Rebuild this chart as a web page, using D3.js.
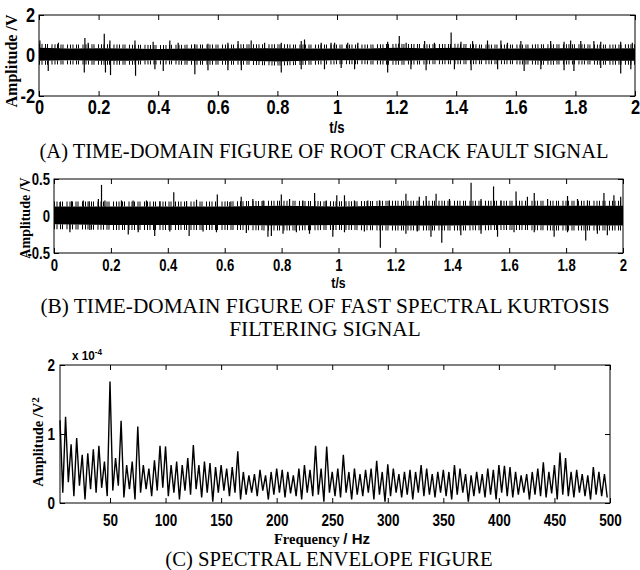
<!DOCTYPE html>
<html>
<head>
<meta charset="utf-8">
<script src="https://cdn.jsdelivr.net/npm/d3@7"></script>
<style>
  body { margin: 0; background: #fff; }
  svg { display: block; }
  .tick text { font-family: "Liberation Sans", Arial, sans-serif; font-weight: bold; fill: #000; }
</style>
</head>
<body>
<svg id="chart"></svg>
<script>
// ---- panel A: root crack fault signal (V), 0..2 s
const coreTimeA = [0, 0.1, 0.2, 0.3, 0.4, 0.5, 0.6, 0.7, 0.8, 0.9, 1.0, 1.1, 1.2, 1.3, 1.4, 1.5, 1.6, 1.7, 1.8, 1.9, 2.0];
const coreHiA = [0.38, 0.34, 0.36, 0.34, 0.32, 0.34, 0.34, 0.36, 0.36, 0.34, 0.34, 0.34, 0.38, 0.36, 0.38, 0.34, 0.34, 0.36, 0.36, 0.34, 0.36];
const coreLoA = [-0.26, -0.24, -0.26, -0.26, -0.24, -0.26, -0.26, -0.26, -0.30, -0.26, -0.24, -0.24, -0.26, -0.24, -0.24, -0.24, -0.24, -0.26, -0.24, -0.26, -0.26];
const spikeTimeA = [0.003, 0.065, 0.154, 0.165, 0.219, 0.238, 0.322, 0.383, 0.439, 0.467, 0.523, 0.567, 0.634, 0.668, 0.712, 0.757, 0.813, 0.880, 0.891, 0.947, 0.980,
  0.992, 1.036, 1.070, 1.170, 1.209, 1.232, 1.294, 1.327, 1.383, 1.416, 1.455, 1.505, 1.550, 1.572, 1.617, 1.717, 1.762, 1.784, 1.818, 1.862, 1.885, 1.952, 1.991,
  0.031, 0.152, 0.223, 0.240, 0.324, 0.389, 0.417, 0.523, 0.567, 0.634, 0.679, 0.813, 0.880, 0.958,
  1.014, 1.059, 1.170, 1.248, 1.299, 1.394, 1.450, 1.539, 1.628, 1.684, 1.762, 1.795, 1.885, 1.952, 1.986];
const spikeAmpA = [0.74, 0.63, 0.87, 0.63, 1.07, 0.74, 0.74, 0.68, 0.74, 0.63, 0.55, 0.58, 0.63, 0.71, 0.74, 0.63, 0.63, 0.71, 0.79, 0.63, 0.63,
  0.63, 0.63, 0.63, 0.68, 0.96, 0.63, 0.71, 0.63, 1.14, 0.68, 0.71, 0.74, 0.74, 0.63, 0.71, 0.71, 0.68, 0.74, 0.71, 0.71, 0.68, 0.68, 0.63,
  -0.76, -0.84, -0.84, -0.97, -1.00, -0.68, -0.76, -0.92, -0.73, -0.73, -0.73, -0.84, -0.68, -0.68,
  -0.62, -0.68, -0.84, -0.68, -0.73, -0.68, -0.73, -0.68, -0.76, -0.68, -0.73, -0.76, -0.62, -0.89, -0.68];

// ---- panel B: fast spectral kurtosis filtered signal (V), 0..2 s
const coreTimeB = [0, 0.2, 0.4, 0.6, 0.8, 1.0, 1.2, 1.4, 1.6, 1.8, 2.0];
const coreHiB = [0.13, 0.13, 0.13, 0.13, 0.14, 0.13, 0.14, 0.14, 0.14, 0.14, 0.14];
const coreLoB = [-0.11, -0.12, -0.12, -0.12, -0.13, -0.12, -0.13, -0.13, -0.12, -0.13, -0.13];
const spikeTimeB = [0.021, 0.062, 0.103, 0.124, 0.156, 0.167, 0.179, 0.237, 0.278, 0.325, 0.372, 0.421, 0.466, 0.501, 0.574, 0.618, 0.658, 0.699, 0.735, 0.799, 0.828, 0.875, 0.916, 0.957, 0.994,
  1.021, 1.056, 1.103, 1.144, 1.179, 1.237, 1.284, 1.308, 1.343, 1.390, 1.466, 1.501, 1.545, 1.571, 1.624, 1.664, 1.688, 1.735, 1.805, 1.840, 1.875, 1.933, 1.968, 1.992,
  0.056, 0.126, 0.261, 0.296, 0.354, 0.407, 0.475, 0.524, 0.571, 0.676, 0.752, 0.764, 0.805, 0.852, 0.898, 0.980,
  1.021, 1.091, 1.147, 1.237, 1.277, 1.325, 1.363, 1.430, 1.501, 1.559, 1.617, 1.688, 1.758, 1.805, 1.869, 1.910, 1.945];
const spikeAmpB = [0.19, 0.20, 0.21, 0.20, 0.23, 0.42, 0.21, 0.21, 0.21, 0.21, 0.20, 0.32, 0.20, 0.22, 0.29, 0.19, 0.26, 0.23, 0.21, 0.29, 0.23, 0.21, 0.31, 0.21, 0.28,
  0.28, 0.21, 0.21, 0.21, 0.21, 0.30, 0.26, 0.27, 0.30, 0.23, 0.45, 0.23, 0.40, 0.21, 0.33, 0.26, 0.31, 0.23, 0.27, 0.23, 0.21, 0.31, 0.28, 0.26,
  -0.22, -0.19, -0.25, -0.22, -0.27, -0.21, -0.27, -0.21, -0.22, -0.23, -0.28, -0.27, -0.24, -0.22, -0.24, -0.28,
  -0.22, -0.21, -0.43, -0.24, -0.21, -0.28, -0.36, -0.26, -0.24, -0.28, -0.22, -0.22, -0.28, -0.22, -0.33, -0.24, -0.26];

// ---- panel C: spectral envelope (x 1e-4 V^2), local max / min per 5 Hz bin from 5 Hz
const envHiC = [1.20, 1.25, 0.85, 0.94, 0.70, 0.72, 0.78, 0.83, 0.60, 1.76, 0.65, 1.19, 0.55, 0.60, 1.11, 0.55, 0.50, 0.62, 0.83, 0.82,
  0.55, 0.60, 0.55, 0.65, 0.84, 0.55, 0.60, 0.58, 0.52, 0.55, 0.50, 0.52, 0.75, 0.45, 0.40, 0.42, 0.48, 0.40, 0.45, 0.50,
  0.48, 0.45, 0.40, 0.50, 0.55, 0.48, 0.83, 0.50, 0.82, 0.45, 0.50, 0.70, 0.45, 0.50, 0.42, 0.48, 0.50, 0.61, 0.45, 0.56,
  0.50, 0.42, 0.45, 0.48, 0.45, 0.55, 0.50, 0.42, 0.45, 0.48, 0.45, 0.55, 0.50, 0.42, 0.40, 0.45, 0.42, 0.50, 0.48, 0.55,
  0.54, 0.52, 0.45, 0.40, 0.42, 0.45, 0.50, 0.59, 0.45, 0.55, 0.73, 0.65, 0.45, 0.48, 0.42, 0.40, 0.52, 0.45, 0.42];
const envLoC = [0.15, 0.30, 0.10, 0.25, 0.05, 0.20, 0.15, 0.22, 0.10, 0.18, 0.25, 0.08, 0.20, 0.05, 0.15, 0.20, 0.10, 0.18, 0.22, 0.10,
  0.15, 0.05, 0.18, 0.12, 0.20, 0.08, 0.15, 0.02, 0.15, 0.18, 0.10, 0.15, 0.05, 0.12, 0.15, 0.10, 0.18, 0.05, 0.12, 0.15,
  0.08, 0.14, 0.10, 0.05, 0.15, 0.10, 0.12, 0.02, 0.15, 0.10, 0.08, 0.15, 0.05, 0.12, 0.10, 0.15, 0.05, 0.12, 0.02, 0.10,
  0.15, 0.08, 0.12, 0.05, 0.15, 0.10, 0.12, 0.08, 0.15, 0.10, 0.05, 0.12, 0.15, 0.02, 0.10, 0.14, 0.08, 0.12, 0.05, 0.15,
  0.10, 0.08, 0.12, 0.15, 0.05, 0.12, 0.10, 0.08, 0.14, 0.05, 0.12, 0.10, 0.08, 0.15, 0.10, 0.05, 0.12, 0.10, 0.08];

const timeTicks = [0, 0.2, 0.4, 0.6, 0.8, 1, 1.2, 1.4, 1.6, 1.8, 2];
const freqTicks = [50, 100, 150, 200, 250, 300, 350, 400, 450, 500];

const SANS = '"Liberation Sans", Arial, sans-serif';
const SERIF = '"Liberation Serif", "Times New Roman", serif';
const NARROW = 0.82; // tick labels in the figure are condensed

function main() {
  const svg = d3.select("#chart").attr("width", 640).attr("height", 570);
  svg.append("rect").attr("width", 640).attr("height", 570).attr("fill", "#fff");

  drawTimePanel(svg, {
    left: 39, right: 635, top: 15, bottom: 96,
    yDomain: [-2, 2], yTicks: [-2, 0, 2], tickFont: 20, xPad: 4, yPad: 4,
    coreTime: coreTimeA, coreHi: coreHiA, coreLo: coreLoA, hair: 4,
    spikeTime: spikeTimeA, spikeAmp: spikeAmpA,
    ylabel: "Amplitude /V", ylabelX: 17, ylabelY: 61, ylabelSize: 16,
    xlabelY: 133, xlabelSize: 16
  });
  caption(svg, ["(A) TIME-DOMAIN FIGURE OF ROOT CRACK FAULT SIGNAL"], 324, 158, 20.5);

  drawTimePanel(svg, {
    left: 54, right: 623, top: 179, bottom: 253,
    yDomain: [-0.5, 0.5], yTicks: [-0.5, 0, 0.5], tickFont: 16, xPad: 7, yPad: 4,
    coreTime: coreTimeB, coreHi: coreHiB, coreLo: coreLoB, hair: 5,
    spikeTime: spikeTimeB, spikeAmp: spikeAmpB,
    ylabel: "Amplitude /V", ylabelX: 30, ylabelY: 218, ylabelSize: 14,
    xlabelY: 288, xlabelSize: 15
  });
  caption(svg, ["(B) TIME-DOMAIN FIGURE OF FAST SPECTRAL KURTOSIS", "FILTERING SIGNAL"], 325, 313, 21.3);

  drawSpectrumPanel(svg);
  caption(svg, ["(C) SPECTRAL ENVELOPE FIGURE"], 329, 566, 20.7);
}

function caption(svg, lines, cx, y, size) {
  svg.append("text")
    .attr("x", cx).attr("y", y)
    .attr("text-anchor", "middle")
    .style("font-family", SERIF).style("font-size", size + "px")
    .selectAll("tspan").data(lines).join("tspan")
    .attr("x", cx).attr("dy", (d, i) => i ? 23 : 0)
    .text(d => d);
}

function narrowText(sel, size) {
  sel.style("font-size", size + "px").attr("transform", `scale(${NARROW},1)`);
}

function frameAxes(g, x, y, cfg) {
  const fmt = d => String(+d.toFixed(2));
  g.append("g").attr("transform", `translate(0,${cfg.bottom})`)
    .call(d3.axisBottom(x).tickValues(cfg.xTicks).tickSizeInner(-5).tickSizeOuter(0).tickPadding(cfg.xPad).tickFormat(fmt))
    .call(a => a.selectAll("text").call(narrowText, cfg.tickFont));
  g.append("g").attr("transform", `translate(0,${cfg.top})`)
    .call(d3.axisTop(x).tickValues(cfg.xTicks).tickSizeInner(-5).tickSizeOuter(0).tickFormat(""));
  g.append("g").attr("transform", `translate(${cfg.left},0)`)
    .call(d3.axisLeft(y).tickValues(cfg.yTicks).tickSizeInner(-5).tickSizeOuter(0).tickPadding(cfg.yPad / NARROW).tickFormat(fmt))
    .call(a => a.selectAll("text").call(narrowText, cfg.tickFont).attr("x", -cfg.yPad / NARROW));
  g.append("g").attr("transform", `translate(${cfg.right},0)`)
    .call(d3.axisRight(y).tickValues(cfg.yTicks).tickSizeInner(-5).tickSizeOuter(0).tickFormat(""));
  g.selectAll(".domain").remove();
  g.selectAll(".tick line").attr("stroke", "#000");
  g.append("rect")
    .attr("x", cfg.left).attr("y", cfg.top)
    .attr("width", cfg.right - cfg.left).attr("height", cfg.bottom - cfg.top)
    .attr("fill", "none").attr("stroke", "#000").attr("stroke-width", 1);
}

function drawTimePanel(svg, cfg) {
  const x = d3.scaleLinear().domain([0, 2]).range([cfg.left, cfg.right]);
  const y = d3.scaleLinear().domain(cfg.yDomain).range([cfg.bottom, cfg.top]);
  const g = svg.append("g");

  const core = cfg.coreTime.map((t, i) => ({ t, hi: cfg.coreHi[i], lo: cfg.coreLo[i] }));
  g.append("path").datum(core)
    .attr("fill", "#000")
    .attr("d", d3.area().x(d => x(d.t)).y0(d => y(d.lo)).y1(d => y(d.hi)));

  // hairy fringe on both edges of the dense band
  const edge = (key, shift) => g.append("path").datum(core)
    .attr("fill", "none").attr("stroke", "#000")
    .attr("stroke-width", cfg.hair)
    .attr("stroke-dasharray", "1 1.5 1 2.5 1 1 1 3.5 1 2")
    .attr("transform", `translate(0,${shift})`)
    .attr("d", d3.line().x(d => x(d.t)).y(d => y(d[key])));
  edge("hi", -cfg.hair / 2);
  edge("lo", cfg.hair / 2);

  const spikes = cfg.spikeTime.map((t, i) => ({ t, v: cfg.spikeAmp[i] }));
  g.append("g").attr("stroke", "#000").attr("stroke-width", 1.2)
    .selectAll("line").data(spikes).join("line")
    .attr("x1", d => x(d.t)).attr("x2", d => x(d.t))
    .attr("y1", y(0)).attr("y2", d => y(d.v));

  frameAxes(g, x, y, { ...cfg, xTicks: timeTicks });

  g.append("text")
    .attr("transform", `translate(${cfg.ylabelX},${cfg.ylabelY}) rotate(-90)`)
    .attr("text-anchor", "middle")
    .style("font-family", SERIF).style("font-weight", "bold").style("font-size", cfg.ylabelSize + "px")
    .text(cfg.ylabel);

  g.append("text")
    .attr("transform", `translate(${(cfg.left + cfg.right) / 2},${cfg.xlabelY}) scale(${NARROW},1)`)
    .attr("text-anchor", "middle")
    .style("font-family", SANS).style("font-weight", "bold").style("font-size", cfg.xlabelSize + "px")
    .text("t/s");
}

function drawSpectrumPanel(svg) {
  const cfg = { left: 60, right: 610, top: 365, bottom: 503, tickFont: 16.5, xPad: 11, yPad: 5, yTicks: [0, 1, 2], xTicks: freqTicks };
  const x = d3.scaleLinear().domain([5, 500]).range([cfg.left, cfg.right]);
  const y = d3.scaleLinear().domain([0, 2]).range([cfg.bottom, cfg.top]);
  const g = svg.append("g");

  const pts = [];
  envHiC.forEach((hi, i) => {
    const f = 5 + i * 5;
    pts.push([f, hi]);
    pts.push([f + 2.5, envLoC[i]]);
  });
  g.append("path").datum(pts)
    .attr("fill", "none").attr("stroke", "#000").attr("stroke-width", 1.4)
    .attr("stroke-linejoin", "bevel")
    .attr("d", d3.line().x(d => x(d[0])).y(d => y(d[1])));

  frameAxes(g, x, y, cfg);

  g.append("text").attr("transform", "translate(72,360) scale(0.9,1)")
    .style("font-family", SANS).style("font-weight", "bold").style("font-size", "13px")
    .text("x 10")
    .append("tspan").attr("dy", -5).style("font-size", "9px").text("-4");

  const yl = g.append("text")
    .attr("transform", `translate(43,442) rotate(-90)`)
    .attr("text-anchor", "middle")
    .style("font-family", SERIF).style("font-weight", "bold").style("font-size", "14.5px");
  yl.append("tspan").text("Amplitude /V");
  yl.append("tspan").attr("dy", -4).style("font-size", "11px").text("2");

  const xl = g.append("text").attr("x", 322).attr("y", 544)
    .attr("text-anchor", "middle")
    .style("font-weight", "bold");
  xl.append("tspan").style("font-family", SERIF).style("font-size", "14.5px").text("Frequency ");
  xl.append("tspan").style("font-family", SANS).style("font-size", "15px").text("/ Hz");
}

main();
</script>
</body>
</html>
